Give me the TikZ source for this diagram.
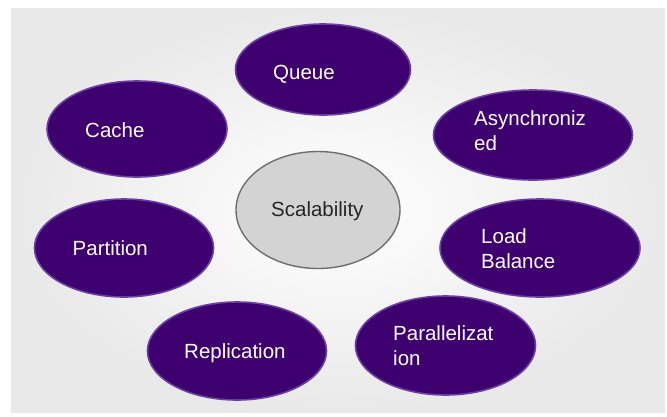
\documentclass[tikz,border=0pt]{standalone}
\usepackage{fontspec}
\setmainfont{Liberation Sans}
\usetikzlibrary{shapes.geometric}
\definecolor{purplefill}{HTML}{3E006F}
\definecolor{purpleedge}{HTML}{6A3FA3}
\definecolor{grayfill}{HTML}{D3D3D3}
\definecolor{grayedge}{HTML}{6E6E6E}
\definecolor{bgouter}{HTML}{E9E9E9}
\tikzset{
  pbubble/.style={ellipse, fill=purplefill, draw=purpleedge, line width=1.6pt, inner sep=0pt},
  gbubble/.style={ellipse, fill=grayfill, draw=grayedge, line width=1.4pt, inner sep=0pt},
  wlabel/.style={anchor=west, inner sep=0pt, align=left, text=white,
    font=\fontsize{20.5}{25}\selectfont},
  blabel/.style={anchor=west, inner sep=0pt, align=left, text=black!85,
    font=\fontsize{20.5}{25}\selectfont}
}
\begin{document}
\begin{tikzpicture}[x=1pt,y=-1pt]
\useasboundingbox (0,0) rectangle (667,416);
\fill[white] (0,0) rectangle (667,416);
\shade[inner color=white, outer color=bgouter] (11,8) rectangle (665,412);
% bubbles
\node[pbubble, minimum width=175pt, minimum height=91pt] (queue) at (323,69.5) {};
\node[pbubble, minimum width=180pt, minimum height=96pt] (cache) at (137,129) {};
\node[pbubble, minimum width=199pt, minimum height=90pt] (async) at (533,135) {};
\node[gbubble, minimum width=164pt, minimum height=117pt] (scal) at (318,210) {};
\node[pbubble, minimum width=179pt, minimum height=98pt] (part) at (124,248) {};
\node[pbubble, minimum width=200pt, minimum height=98pt] (load) at (540,248) {};
\node[pbubble, minimum width=179pt, minimum height=98pt] (repl) at (237,351) {};
\node[pbubble, minimum width=180pt, minimum height=99pt] (para) at (445.5,345.5) {};
% labels
\node[wlabel] (queuet) at (273,74) {Queue};
\node[wlabel] (cachet) at (85,130) {Cache};
\node[wlabel] (asynct) at (474,130.5) {Asynchroniz\\ed};
\node[blabel] (scalt) at (271,211) {Scalability};
\node[wlabel] (partt) at (72.5,248) {Partition};
\node[wlabel] (loadt) at (481,249) {Load\\Balance};
\node[wlabel] (replt) at (184,353) {Replication};
\node[wlabel] (parat) at (393,345.5) {Parallelizat\\ion};
\end{tikzpicture}
\end{document}
